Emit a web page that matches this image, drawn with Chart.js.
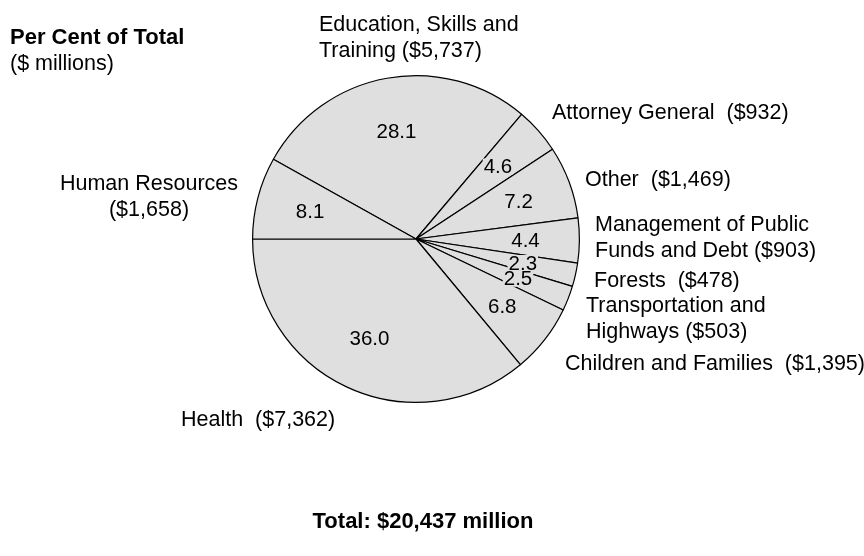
<!DOCTYPE html>
<html>
<head>
<meta charset="utf-8">
<title>Per Cent of Total</title>
<script src="https://cdn.jsdelivr.net/npm/chart.js@4.4.1/dist/chart.umd.min.js"></script>
<style>
  html, body { margin: 0; padding: 0; background: #ffffff; }
  #wrap { width: 864px; height: 556px; position: relative; }
  canvas { display: block; }
</style>
</head>
<body>
<div id="wrap"><canvas id="pie" width="864" height="556"></canvas></div>
<script>
// Spending by ministry, $ millions (slices run clockwise from Education)
const categories = [
  ['Education, Skills and', 'Training'],
  ['Attorney General'],
  ['Other'],
  ['Management of Public', 'Funds and Debt'],
  ['Forests'],
  ['Transportation and', 'Highways'],
  ['Children and Families'],
  ['Health'],
  ['Human Resources']
];
const spending = [5737, 932, 1469, 903, 478, 503, 1395, 7362, 1658];

const titleLines = ['Per Cent of Total', '($ millions)'];
const totalCaption = 'Total: $20,437 million';

const FONT = '"Liberation Sans", Arial, Helvetica, sans-serif';
const SLICE_FILL = '#dfdfdf';

// Callout placement around the pie, relative to its centre (first baseline)
const callouts = [
  { dx: -97, dy: -208, align: 'left', sep: ' ' },
  { dx: 136, dy: -120, align: 'left', sep: '  ' },
  { dx: 169, dy: -53, align: 'left', sep: '  ' },
  { dx: 179, dy: -8, align: 'left', sep: ' ' },
  { dx: 178, dy: 48, align: 'left', sep: '  ' },
  { dx: 170, dy: 73, align: 'left', sep: ' ' },
  { dx: 149, dy: 131, align: 'left', sep: '  ' },
  { dx: -235, dy: 187, align: 'left', sep: '  ' },
  { dx: -267, dy: -49, align: 'center', sep: '\n' }
];

const total = spending.reduce((a, b) => a + b, 0);
const money = v => '($' + v.toLocaleString('en-US') + ')';

const labelPlugin = {
  id: 'pieLabels',
  afterDatasetsDraw(chart) {
    const ctx = chart.ctx;
    const meta = chart.getDatasetMeta(0);
    ctx.save();

    meta.data.forEach((arc, i) => {
      const p = arc.getProps(['x', 'y', 'startAngle', 'endAngle', 'outerRadius'], true);
      const mid = (p.startAngle + p.endAngle) / 2;
      const r = p.outerRadius * 0.67;
      const tx = p.x + Math.cos(mid) * r;
      const ty = p.y + Math.sin(mid) * r;
      const pct = (spending[i] / total * 100).toFixed(1);

      ctx.font = '20.5px ' + FONT;
      const w = ctx.measureText(pct).width;
      ctx.fillStyle = SLICE_FILL;
      ctx.fillRect(tx - w / 2 - 1, ty - 8, w + 2, 16);
      ctx.fillStyle = '#000';
      ctx.textAlign = 'center';
      ctx.textBaseline = 'middle';
      ctx.fillText(pct, tx, ty + 1);

      // category name with its dollar amount
      const c = callouts[i];
      const lines = categories[i].slice();
      if (c.sep === '\n') lines.push(money(spending[i]));
      else lines[lines.length - 1] += c.sep + money(spending[i]);
      ctx.font = '21.5px ' + FONT;
      ctx.textAlign = c.align;
      ctx.textBaseline = 'alphabetic';
      lines.forEach((ln, k) => ctx.fillText(ln, p.x + c.dx, p.y + c.dy + k * 26));
    });

    // heading and total
    ctx.textAlign = 'left';
    ctx.textBaseline = 'alphabetic';
    ctx.font = 'bold 22px ' + FONT;
    ctx.fillText(titleLines[0], 10, 44);
    ctx.font = '21.5px ' + FONT;
    ctx.fillText(titleLines[1], 10, 70);
    ctx.font = 'bold 22px ' + FONT;
    ctx.textAlign = 'center';
    ctx.fillText(totalCaption, 423, 528);
    ctx.restore();
  }
};

new Chart(document.getElementById('pie'), {
  type: 'pie',
  data: {
    labels: categories.map(c => c.join(' ')),
    datasets: [{
      data: spending,
      backgroundColor: SLICE_FILL,
      borderColor: '#000000',
      borderWidth: 1.2,
      hoverOffset: 0
    }]
  },
  options: {
    responsive: false,
    devicePixelRatio: 1,
    animation: false,
    rotation: -60.8,
    layout: { padding: { left: 252, right: 284, top: 75, bottom: 153 } },
    plugins: {
      legend: { display: false },
      tooltip: { enabled: false },
      title: { display: false }
    },
    events: []
  },
  plugins: [labelPlugin]
});
</script>
</body>
</html>
